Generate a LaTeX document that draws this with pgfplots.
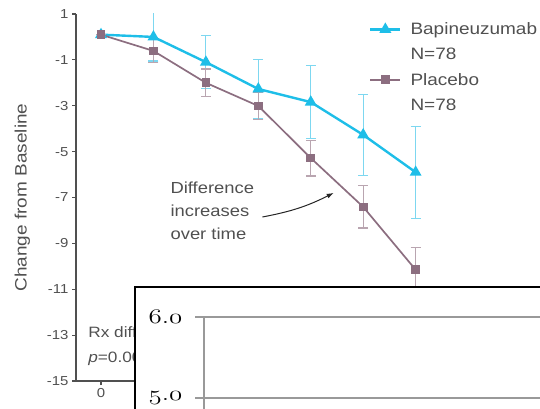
\documentclass[border=0pt]{standalone}
\usepackage{graphicx}
\usepackage{pgfplots}
\pgfplotsset{compat=1.18}
\usepackage{pgfplotstable}
\usetikzlibrary{arrows.meta}
\usepackage{fontspec}
\setmainfont{Liberation Sans}[FakeStretch=1.15]
\newcommand{\osf}[1]{\scalebox{1.3}[1]{\fontencoding{OML}\fontfamily{cmm}\fontseries{m}\fontshape{it}\fontsize{21}{21}\selectfont #1}}
\definecolor{bap}{RGB}{30,190,232}
\definecolor{bapbar}{RGB}{125,215,240}
\definecolor{pla}{RGB}{140,110,128}
\definecolor{plabar}{RGB}{185,165,176}
\definecolor{axg}{RGB}{80,80,80}
\definecolor{txg}{RGB}{80,80,80}

\pgfplotstableread{
x y e
0 0.1 0
13 0.0 1.05
26 -1.1 1.15
39 -2.27 1.3
52 -2.84 1.6
65 -4.27 1.77
78 -5.9 2.0
}\bapdata
\pgfplotstableread{
x y e
0 0.1 0
13 -0.61 0.5
26 -2.0 0.6
39 -3.01 0.6
52 -5.28 0.78
65 -7.41 0.92
78 -10.15 0.96
}\pladata

\begin{document}
\begin{tikzpicture}
\useasboundingbox (0pt,0pt) rectangle (540pt,409pt);
\clip (0pt,0pt) rectangle (540pt,409pt);
\begin{axis}[
  at={(76pt,28pt)}, anchor=south west, scale only axis,
  width=384pt, height=367pt,
  xmin=-6.2, xmax=89, ymin=-15, ymax=1,
  axis lines=left, axis line style={axg, line width=1.3pt, -},
  ytick={1,-1,...,-15}, xtick={0},
  tick align=outside, major tick length=4pt,
  tick style={axg, line width=1.2pt},
  ticklabel style={txg, font=\fontsize{13}{13}\selectfont},
  /pgf/number format/assume math mode=true,
  ylabel={Change from Baseline},
  every axis y label/.style={at={(axis description cs:-0.14,0.5)}, rotate=90, anchor=center,
    text=txg, font=\fontsize{16.5}{16.5}\selectfont},
  legend style={at={(rel axis cs:0.755,0.988)}, anchor=north west, draw=none, fill=none,
    font=\fontsize{16.5}{16.5}\selectfont, text=txg, row sep=8pt},
  legend cell align=left,
  legend image code/.code={\draw[mark repeat=2,mark phase=2] plot coordinates {(0pt,0pt) (15pt,0pt) (30pt,0pt)};},
]
\addplot[bap, line width=2.4pt, mark=triangle*, mark size=4.5pt, mark options={solid},
  error bars/.cd, y dir=both, y explicit,
  error bar style={bapbar, line width=1.2pt},
  error mark options={bapbar, rotate=90, mark size=5pt, line width=1.2pt}]
  table[x=x, y=y, y error=e] {\bapdata};
\addlegendentry{\hspace{7pt}Bapineuzumab}
\addlegendimage{empty legend}
\addlegendentry{\hspace{7pt}N=78\rule[-10pt]{0pt}{1pt}}
\addplot[pla, line width=1.7pt, mark=square*, mark size=3.5pt, mark options={solid},
  error bars/.cd, y dir=both, y explicit,
  error bar style={plabar, line width=1.2pt},
  error mark options={plabar, rotate=90, mark size=5pt, line width=1.2pt}]
  table[x=x, y=y, y error=e] {\pladata};
\addlegendentry{\hspace{7pt}Placebo}
\addlegendimage{empty legend}
\addlegendentry{\hspace{7pt}N=78}
\node[anchor=north west, align=left, text=txg, font=\fontsize{16}{23}\selectfont, inner sep=0pt]
  at (axis cs:17.2,-6.3) {Difference\\increases\\over time};
\draw[-{Latex[length=7pt,width=5pt]}, black!85, line width=1pt]
  (axis cs:40,-7.85) to[bend right=8] (axis cs:57.7,-6.8);
\node[anchor=north west, align=left, text=txg, font=\fontsize{15}{25}\selectfont, inner sep=0pt]
  at (axis cs:-3.2,-12.6) {Rx difference: 4.3\\\textit{p}=0.004};
\end{axis}
\fill[white] (135pt,-5pt) rectangle (545pt,122pt);
\draw[black, line width=2.2pt] (135pt,-5pt) -- (135pt,122pt) -- (545pt,122pt);
\begin{axis}[
  at={(204pt,-5.2pt)}, anchor=south west, scale only axis,
  width=340pt, height=97.2pt,
  xmin=0, xmax=1, ymin=4.8, ymax=6,
  axis x line=none, axis y line=left,
  axis line style={black!40, line width=1.2pt, -},
  ytick={5,6}, yticklabels={\osf{5{\char58}0},\osf{6{\char58}0}},
  ymajorgrids, grid style={black!40, line width=1.2pt},
  tick align=outside, major tick length=9pt,
  tick style={black!40, line width=1.2pt},
  yticklabel style={black, xshift=-9pt},
]
\end{axis}
\end{tikzpicture}
\end{document}
